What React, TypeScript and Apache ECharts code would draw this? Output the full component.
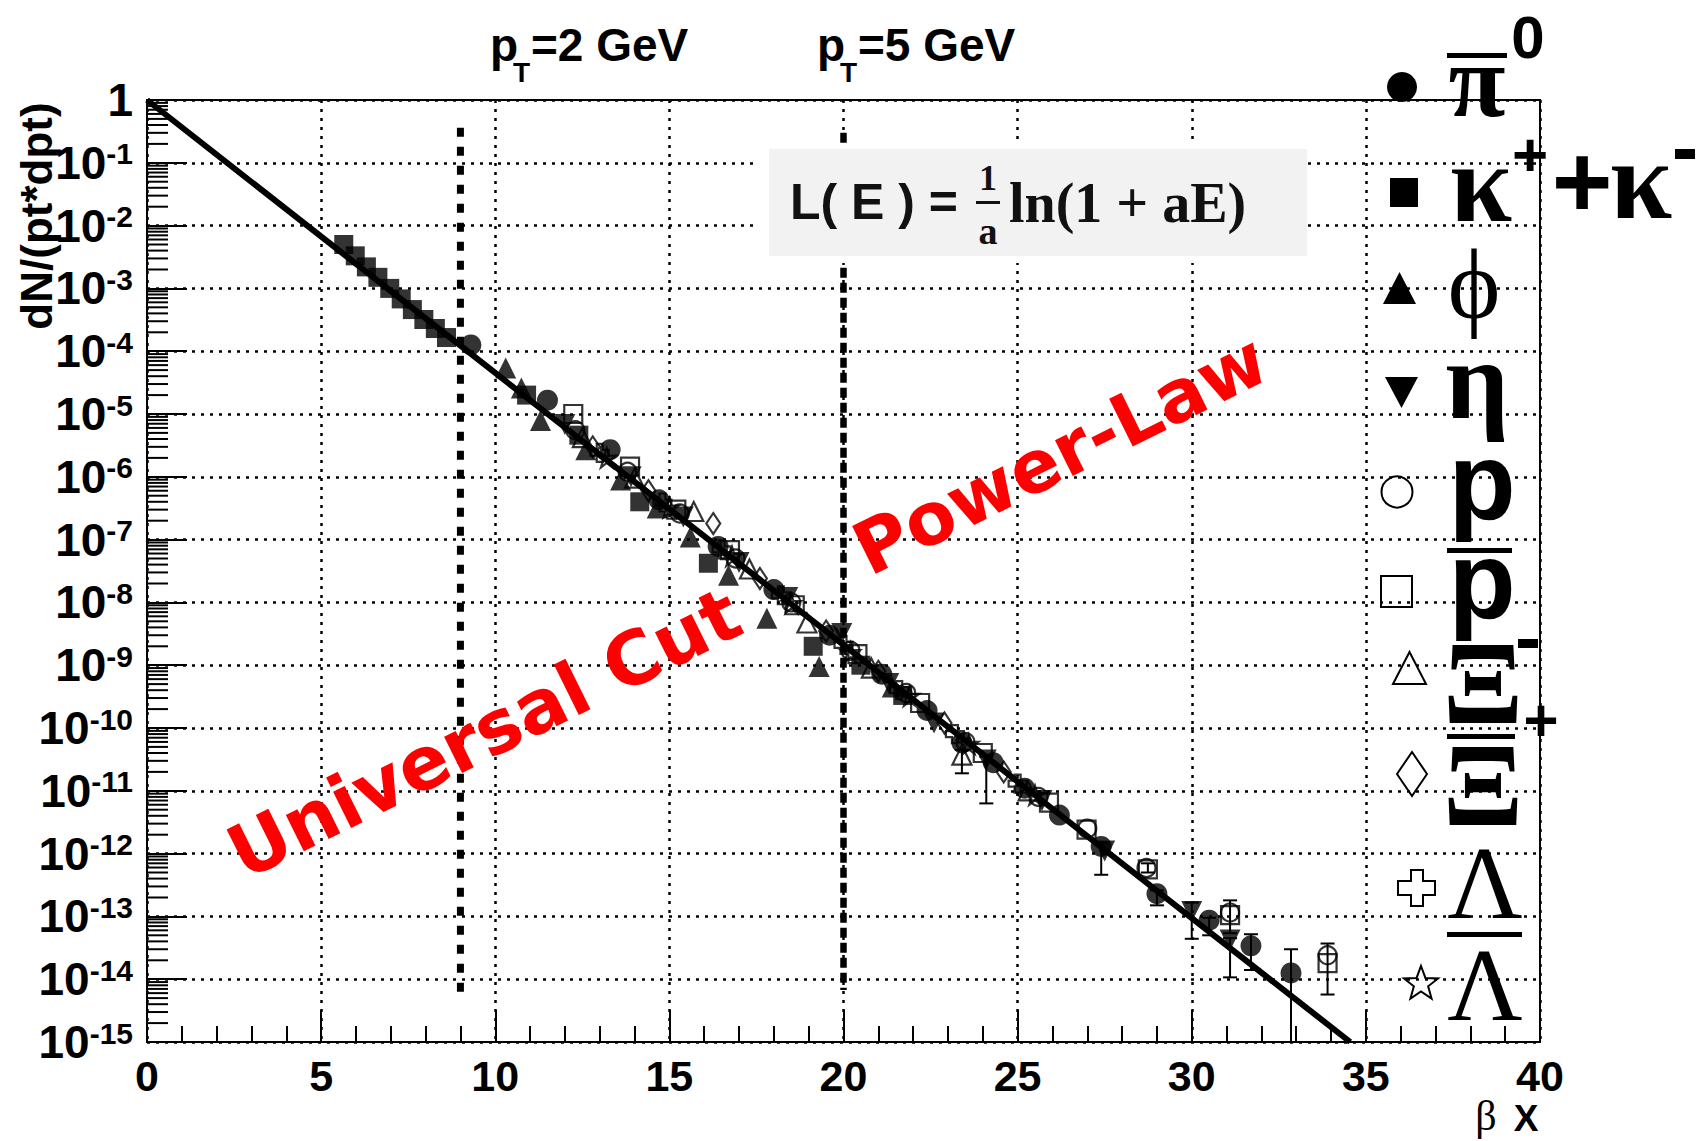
import React, { useEffect, useRef } from "react";
import * as echarts from "echarts";

// ---- spectra: dN/(pt*dpt) against beta*X, one list pair per species ----
const pi0X = [9.3, 11.5, 13.3, 14.7, 16.4, 18.0, 19.6, 21.1, 22.4, 23.4, 24.3, 25.2, 26.2, 27.4, 29.0, 30.5, 31.7, 32.85];
const pi0Y = [1.26e-4, 1.66e-5, 2.7e-6, 4.3e-7, 7.8e-8, 1.6e-8, 3.0e-9, 7.2e-10, 1.9e-10, 5.8e-11, 2.8e-11, 1.1e-11, 4.1e-12, 1.3e-12, 2.3e-13, 8.7e-14, 3.4e-14, 1.26e-14];

const kaonX = [5.65, 5.98, 6.3, 6.63, 6.97, 7.3, 7.62, 7.95, 8.28, 8.6, 10.9, 12.4, 14.15, 16.12, 19.13, 20.5, 21.7];
const kaonY = [5.0e-3, 3.3e-3, 2.2e-3, 1.5e-3, 1.0e-3, 6.8e-4, 4.6e-4, 3.2e-4, 2.3e-4, 1.65e-4, 2.0e-5, 4.6e-6, 4.0e-7, 4.2e-8, 2.0e-9, 1.0e-9, 3.3e-10];

const phiX = [10.3, 10.75, 11.3, 12.6, 13.6, 14.65, 15.6, 16.7, 17.8, 19.3, 21.4];
const phiY = [5.4e-5, 2.6e-5, 7.9e-6, 2.7e-6, 8.9e-7, 3.2e-7, 1.1e-7, 2.7e-8, 5.6e-9, 9.5e-10, 4.5e-10];

const etaX = [12.0, 13.9, 15.4, 17.0, 18.4, 19.95, 21.3, 22.6, 24.1, 25.7, 27.5, 30.0, 31.1];
const etaY = [6.8e-6, 1.0e-6, 2.3e-7, 4.3e-8, 1.2e-8, 3.2e-9, 5.1e-10, 1.2e-10, 3.1e-11, 7.0e-12, 1.1e-12, 1.2e-13, 4.2e-14];

const protonX = [12.3, 13.8, 15.3, 16.9, 18.5, 20.2, 21.8, 23.5, 25.6, 27.0, 28.7, 31.1, 33.9];
const protonY = [5.5e-6, 1.2e-6, 2.6e-7, 5.0e-8, 1.0e-8, 1.7e-9, 3.6e-10, 6.0e-11, 8.0e-12, 2.5e-12, 5.9e-13, 1.15e-13, 2.4e-14];

const antiProtonX = [12.24, 13.87, 15.2, 16.74, 18.6, 20.4, 22.2, 24.0, 25.9, 26.98, 28.74, 31.1, 33.9];
const antiProtonY = [1.0e-5, 1.45e-6, 3.0e-7, 6.8e-8, 9.0e-9, 1.5e-9, 2.5e-10, 4.0e-11, 6.5e-12, 2.4e-12, 5.6e-13, 1.05e-13, 1.8e-14];

const xiX = [12.5, 14.0, 15.7, 17.3, 18.95, 20.8, 23.4, 25.3];
const xiY = [4.2e-6, 9.5e-7, 2.8e-7, 3.4e-8, 4.7e-9, 9.0e-10, 3.7e-11, 1.0e-11];

const antiXiX = [12.8, 14.4, 16.26, 17.6, 19.5, 21.0, 22.9, 24.6];
const antiXiY = [3.0e-6, 6.0e-7, 1.8e-7, 2.4e-8, 3.5e-9, 8.0e-10, 1.2e-10, 2.0e-11];

const lambdaX = [13.0, 14.8, 16.5, 18.2, 20.0, 21.6, 23.2, 25.0];
const lambdaY = [2.4e-6, 3.9e-7, 7.0e-8, 1.3e-8, 2.1e-9, 4.0e-10, 8.0e-11, 1.3e-11];

const antiLambdaX = [13.2, 15.0, 16.8, 18.5, 20.2, 21.9, 23.6, 25.5];
const antiLambdaY = [2.0e-6, 3.2e-7, 5.4e-8, 9.6e-9, 1.6e-9, 3.2e-10, 5.5e-11, 8.5e-12];

// vertical error bars (x, lower edge, upper edge)
const errX = [23.4, 24.1, 27.4, 28.74, 29.0, 30.0, 30.5, 31.1, 31.1, 31.7, 32.85, 33.9];
const errLow = [1.9e-11, 6.3e-12, 4.6e-13, 5.0e-13, 1.5e-13, 4.4e-14, 5.0e-14, 1.07e-14, 5.4e-14, 1.4e-14, 5e-16, 5.7e-15];
const errHigh = [4.5e-11, 3.5e-11, 1.5e-12, 7.0e-13, 2.6e-13, 1.66e-13, 9.5e-14, 4.5e-14, 1.8e-13, 5.2e-14, 3.0e-14, 3.7e-14];

// exponential fit through the points
const fitX = [0, 10, 20, 30, 34.55];
const fitY = [1, 4.5e-5, 2.1e-9, 9.4e-14, 1.0e-15];

// pT = 2 GeV and pT = 5 GeV markers
const cutX = [9, 20];
const cutTop = [0.36, 0.3];
const cutBottom = [5e-15, 6.7e-15];
const cutLabels = ["=2 GeV", "=5 GeV"];

// axes
const xMin = 0;
const xMax = 40;
const xStep = 5;
const yMin = 1e-15;
const yMax = 1;
const yDecades = 15;

const SANS = "'Liberation Sans', Arial, sans-serif";
const SERIF = "'Liberation Serif', 'DejaVu Serif', serif";
const RED_FONT = "'DejaVu Sans', sans-serif";
const INK = "#000";

const zip = (xs: number[], ys: number[]) => xs.map((x, i) => [x, ys[i]]);

const CROSS_PATH = "path://M4,0H8V4H12V8H8V12H4V8H0V4H4Z";
const STAR_PATH = "path://M50,2L61,37H98L68,59L79,95L50,73L21,95L32,59L2,37H39Z";

const filledSeries = (name: string, xs: number[], ys: number[], symbol: string, size: number | number[], extra: any = {}) => ({
  type: "scatter",
  name,
  data: zip(xs, ys),
  symbol,
  symbolSize: size,
  itemStyle: { color: INK },
  silent: true,
  z: 6,
  ...extra,
});

const openSeries = (name: string, xs: number[], ys: number[], symbol: string, size: number | number[], extra: any = {}) => ({
  type: "scatter",
  name,
  data: zip(xs, ys),
  symbol,
  symbolSize: size,
  itemStyle: { color: "rgba(255,255,255,0)", borderColor: INK, borderWidth: 2.2 },
  silent: true,
  z: 5,
  ...extra,
});

// minor ticks at 2..9 x 10^n for each decade of the log axis
const yMinorTicks: number[] = [];
for (let e = -yDecades; e < 0; e++) {
  for (let k = 2; k <= 9; k++) yMinorTicks.push(k * Math.pow(10, e));
}

const starPoints = (cx: number, cy: number, ro: number, ri: number) => {
  const pts: number[][] = [];
  for (let i = 0; i < 10; i++) {
    const r = i % 2 === 0 ? ro : ri;
    const a = -Math.PI / 2 + (i * Math.PI) / 5;
    pts.push([cx + r * Math.cos(a), cy + r * Math.sin(a)]);
  }
  return pts;
};

const txt = (text: string, x: number, y: number, size: number, family: string, weight: string, align = "left", extra: any = {}) => ({
  type: "text",
  x,
  y,
  z: 20,
  silent: true,
  style: {
    text,
    fontSize: size,
    fontFamily: family,
    fontWeight: weight,
    fill: extra.fill || INK,
    align,
    verticalAlign: "middle",
  },
  ...(extra.rotation !== undefined ? { rotation: extra.rotation } : {}),
});

const bar = (x: number, y: number, w: number, h: number, fill = INK, z = 20) => ({
  type: "rect",
  z,
  silent: true,
  shape: { x, y, width: w, height: h },
  style: { fill },
});

const openStyle = { fill: "rgba(255,255,255,0)", stroke: INK, lineWidth: 2 };

const graphicElements: any[] = [
  // formula box
  bar(758, 143, 549, 120, "#ffffff", 15),
  bar(769, 149, 538, 107, "#f2f2f2", 16),
  txt("L( E ) =", 790, 202, 50, SANS, "bold", "left", { fill: "#111" }),
  txt("1", 988, 178, 36, SERIF, "bold", "center", { fill: "#111" }),
  bar(976, 201, 24, 3, "#111"),
  txt("a", 988, 231, 38, SERIF, "bold", "center", { fill: "#111" }),
  txt("ln(1 + aE)", 1009, 203, 56, SERIF, "bold", "left", { fill: "#111" }),

  // pT labels above the cut lines
  txt("p", 490, 45, 46, SANS, "bold"),
  txt("T", 513, 72, 28, SANS, "bold"),
  txt(cutLabels[0], 531, 45, 46, SANS, "bold"),
  txt("p", 817, 45, 46, SANS, "bold"),
  txt("T", 840, 72, 28, SANS, "bold"),
  txt(cutLabels[1], 858, 45, 46, SANS, "bold"),

  // axis titles
  txt("dN/(pt*dpt)", 36, 216, 44, SANS, "bold", "center", { rotation: Math.PI / 2 }),
  txt("β", 1486, 1116, 42, SERIF, "normal", "center"),
  txt("X", 1526, 1118, 37, SANS, "bold", "center"),

  // regime annotations
  txt("Universal Cut", 484, 733, 74, RED_FONT, "bold", "center", { fill: "#ff0000", rotation: 0.46 }),
  txt("Power-Law", 1060, 454, 73, RED_FONT, "bold", "center", { fill: "#ff0000", rotation: 0.46 }),

  // legend markers
  { type: "circle", z: 20, silent: true, shape: { cx: 1402, cy: 87, r: 15 }, style: { fill: INK } },
  bar(1390, 178, 28, 29),
  { type: "polygon", z: 20, silent: true, shape: { points: [[1383, 304], [1416, 304], [1399.5, 272]] }, style: { fill: INK } },
  { type: "polygon", z: 20, silent: true, shape: { points: [[1385, 377], [1418, 377], [1401.5, 408]] }, style: { fill: INK } },
  { type: "circle", z: 20, silent: true, shape: { cx: 1397, cy: 492, r: 15.5 }, style: openStyle },
  { type: "rect", z: 20, silent: true, shape: { x: 1381, y: 576, width: 31, height: 31 }, style: openStyle },
  { type: "polygon", z: 20, silent: true, shape: { points: [[1393, 684], [1426, 684], [1409.5, 652]] }, style: openStyle },
  { type: "polygon", z: 20, silent: true, shape: { points: [[1412, 752], [1427, 774], [1412, 796], [1397, 774]] }, style: openStyle },
  {
    type: "polygon",
    z: 20,
    silent: true,
    shape: {
      points: [[1411, 870], [1423, 870], [1423, 881], [1435, 881], [1435, 895], [1423, 895], [1423, 906], [1411, 906], [1411, 895], [1398, 895], [1398, 881], [1411, 881]],
    },
    style: openStyle,
  },
  { type: "polygon", z: 20, silent: true, shape: { points: starPoints(1421, 984, 18, 7.5) }, style: openStyle },

  // legend labels
  bar(1447, 53, 60, 5),
  txt("π", 1477, 80, 104, SERIF, "bold", "center"),
  txt("0", 1528, 37, 60, SANS, "bold", "center"),
  txt("κ", 1481, 183, 112, SERIF, "bold", "center"),
  txt("+", 1530, 154, 62, SANS, "bold", "center"),
  txt("+", 1582, 181, 104, SANS, "bold", "center"),
  txt("κ", 1641, 180, 112, SERIF, "bold", "center"),
  bar(1675, 149, 20, 10),
  txt("ϕ", 1474, 284, 100, SERIF, "normal", "center"),
  txt("η", 1477, 380, 112, SERIF, "bold", "center"),
  txt("p", 1482, 480, 110, SANS, "bold", "center"),
  bar(1447, 548, 65, 5),
  txt("p", 1482, 579, 110, SANS, "bold", "center"),
  txt("Ξ", 1483, 683, 118, SERIF, "bold", "center"),
  bar(1518, 639, 20, 9),
  bar(1447, 734, 68, 5),
  txt("Ξ", 1483, 785, 118, SERIF, "bold", "center"),
  txt("+", 1541, 720, 60, SANS, "bold", "center"),
  txt("Λ", 1485, 882, 104, SERIF, "normal", "center"),
  bar(1447, 932, 75, 5),
  txt("Λ", 1485, 984, 104, SERIF, "normal", "center"),
];

const option: any = {
  animation: false,
  backgroundColor: "#ffffff",
  grid: {
    left: 147,
    top: 100,
    right: 166,
    bottom: 99,
    show: true,
    borderColor: INK,
    borderWidth: 2,
    backgroundColor: "transparent",
  },
  xAxis: {
    type: "value",
    min: xMin,
    max: xMax,
    interval: xStep,
    axisLine: { lineStyle: { color: INK, width: 2 } },
    axisTick: { inside: true, length: 32, lineStyle: { color: INK, width: 2 } },
    minorTick: { show: true, splitNumber: 5, length: 16, lineStyle: { color: INK, width: 2 } },
    splitLine: { show: true, lineStyle: { color: INK, width: 2.5, type: [3, 6] } },
    axisLabel: { color: INK, fontSize: 43, fontWeight: "bold", fontFamily: SANS, margin: 12 },
  },
  yAxis: {
    type: "log",
    logBase: 10,
    min: yMin,
    max: yMax,
    interval: 1,
    splitNumber: yDecades,
    axisLine: { lineStyle: { color: INK, width: 2 } },
    axisTick: { inside: true, length: 40, lineStyle: { color: INK, width: 2 } },
    splitLine: { show: true, lineStyle: { color: INK, width: 2.5, type: [3, 6] } },
    axisLabel: {
      margin: 14,
      formatter: (v: number) => {
        const e = Math.round(Math.log10(v));
        return e === 0 ? "{b|1}" : `{b|10}{s|${e}}`;
      },
      rich: {
        b: { fontSize: 46, fontWeight: "bold", fontFamily: SANS, color: INK, lineHeight: 48 },
        s: { fontSize: 30, fontWeight: "bold", fontFamily: SANS, color: INK, lineHeight: 26, verticalAlign: "top" },
      },
    },
  },
  graphic: { elements: graphicElements },
  series: [
    {
      type: "custom",
      name: "minor ticks",
      silent: true,
      clip: false,
      z: 3,
      data: yMinorTicks.map((v) => [xMin, v]),
      renderItem: (_p: any, api: any) => {
        const pt = api.coord([api.value(0), api.value(1)]);
        return {
          type: "line",
          shape: { x1: pt[0], y1: pt[1], x2: pt[0] + 21, y2: pt[1] },
          style: { stroke: INK, lineWidth: 2 },
        };
      },
    },
    ...cutX.map((x, i) => ({
      type: "line",
      name: `cut ${cutLabels[i]}`,
      data: [
        [x, cutTop[i]],
        [x, cutBottom[i]],
      ],
      symbol: "none",
      silent: true,
      z: 2,
      lineStyle: { color: INK, width: i === 0 ? 7 : 6.5, type: i === 0 ? [9, 10] : [10, 5] },
    })),
    {
      type: "custom",
      name: "errors",
      silent: true,
      clip: true,
      z: 4,
      data: errX.map((x, i) => [x, errLow[i], errHigh[i]]),
      encode: { x: 0, y: [1, 2] },
      renderItem: (_p: any, api: any) => {
        const x = api.value(0);
        const lo = api.coord([x, api.value(1)]);
        const hi = api.coord([x, api.value(2)]);
        const c = 7;
        const st = { stroke: INK, lineWidth: 2 };
        return {
          type: "group",
          children: [
            { type: "line", shape: { x1: lo[0], y1: lo[1], x2: hi[0], y2: hi[1] }, style: st },
            { type: "line", shape: { x1: lo[0] - c, y1: lo[1], x2: lo[0] + c, y2: lo[1] }, style: st },
            { type: "line", shape: { x1: hi[0] - c, y1: hi[1], x2: hi[0] + c, y2: hi[1] }, style: st },
          ],
        };
      },
    },
    {
      type: "line",
      name: "fit",
      data: zip(fitX, fitY),
      symbol: "none",
      silent: true,
      z: 4,
      lineStyle: { color: INK, width: 6 },
    },
    openSeries("Λbar", antiLambdaX, antiLambdaY, STAR_PATH, 19),
    openSeries("Λ", lambdaX, lambdaY, CROSS_PATH, 18),
    openSeries("Ξbar+", antiXiX, antiXiY, "diamond", [14, 21]),
    openSeries("Ξ-", xiX, xiY, "triangle", 19),
    openSeries("pbar", antiProtonX, antiProtonY, "rect", 18),
    openSeries("p", protonX, protonY, "circle", 18),
    filledSeries("η", etaX, etaY, "triangle", 21, { symbolRotate: 180 }),
    filledSeries("φ", phiX, phiY, "triangle", 21),
    filledSeries("K", kaonX, kaonY, "rect", 19),
    filledSeries("π0", pi0X, pi0Y, "circle", 21),
  ],
};

export default function App() {
  const ref = useRef<HTMLDivElement>(null);
  useEffect(() => {
    if (!ref.current) return;
    const chart = echarts.init(ref.current, null, { renderer: "svg" });
    chart.setOption(option);
    return () => chart.dispose();
  }, []);
  return (
    <div
      ref={ref}
      style={{ position: "fixed", left: 0, top: 0, width: 1706, height: 1141, background: "#ffffff" }}
    />
  );
}
